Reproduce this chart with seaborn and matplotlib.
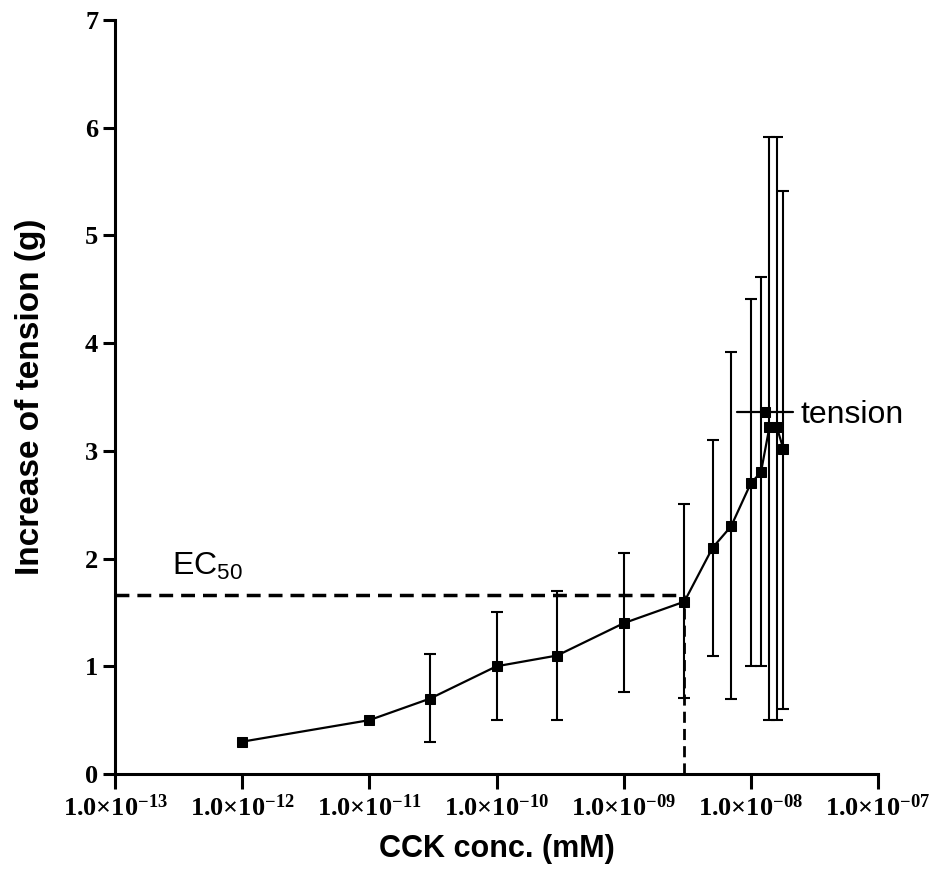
import numpy as np
import pandas as pd
import matplotlib
matplotlib.use("Agg")
import matplotlib.pyplot as plt
import seaborn as sns
from matplotlib.ticker import FixedLocator, FuncFormatter, NullLocator

# ================================
# data
# ================================
conc = [1e-12, 1e-11, 3e-11, 1e-10, 3e-10, 1e-9, 3e-9, 5e-9, 7e-9,
        1e-8, 1.2e-8, 1.4e-8, 1.6e-8, 1.8e-8]
tension = [0.30, 0.50, 0.70, 1.00, 1.10, 1.40, 1.60, 2.10, 2.30,
           2.70, 2.80, 3.22, 3.22, 3.02]
err_low = [np.nan, np.nan, 0.30, 0.50, 0.50, 0.76, 0.71, 1.10, 0.70,
           1.00, 1.00, 0.50, 0.50, 0.60]
err_high = [np.nan, np.nan, 1.11, 1.50, 1.70, 2.05, 2.51, 3.10, 3.92,
            4.41, 4.61, 5.91, 5.91, 5.41]
x_ticks = [1e-13, 1e-12, 1e-11, 1e-10, 1e-9, 1e-8, 1e-7]
y_ticks = [0, 1, 2, 3, 4, 5, 6, 7]
ec50_conc = 3e-9
ec50_tension = 1.66

df = pd.DataFrame({"conc": conc, "tension": tension,
                   "low": err_low, "high": err_high})

# ================================
# style
# ================================
sns.set_style("ticks")
plt.rcParams.update({
    "font.family": ["Liberation Sans", "DejaVu Sans"],
    "mathtext.fontset": "custom",
    "mathtext.rm": "Liberation Serif",
    "mathtext.bf": "Liberation Serif:bold",
    "mathtext.sf": "Liberation Sans",
    "axes.linewidth": 2.2,
    "text.color": "black",
    "axes.labelcolor": "black",
    "axes.edgecolor": "black",
    "xtick.color": "black",
    "ytick.color": "black",
})

fig = plt.figure(figsize=(9.34, 8.8), dpi=100)
ax = fig.add_axes([115/934, 1 - 774/880, (878-115)/934, (774-20)/880])
ax.set_xscale("log")

# 曲线 + 方块
sns.lineplot(data=df, x="conc", y="tension", ax=ax, color="black",
             marker="s", markersize=7, markeredgecolor="black",
             linewidth=1.6, label="tension", errorbar=None)

# 误差棒（前两个点没有）
e = df.dropna()
ax.errorbar(e["conc"], e["tension"],
            yerr=[e["tension"] - e["low"], e["high"] - e["tension"]],
            fmt="none", ecolor="black", elinewidth=1.5,
            capsize=4.5, capthick=1.5, zorder=1)

# EC50 虚线
ax.plot([x_ticks[0], ec50_conc], [ec50_tension, ec50_tension],
        color="black", lw=2.5, dashes=(4, 2.3), zorder=1, clip_on=False)
ax.plot([ec50_conc, ec50_conc], [0, ec50_tension],
        color="black", lw=2.0, dashes=(4, 2.2), zorder=1)
ax.text(2.8e-13, 1.85, r"EC$_{\mathsf{50}}$", fontsize=23,
        ha="left", va="baseline")

# ================================
# axes
# ================================
ax.set_xlim(x_ticks[0], x_ticks[-1])
ax.set_ylim(y_ticks[0], y_ticks[-1])
ax.xaxis.set_major_locator(FixedLocator(x_ticks))
ax.xaxis.set_minor_locator(NullLocator())
ax.xaxis.set_major_formatter(FuncFormatter(
    lambda v, p: r"$\mathbf{1.0{\times}10^{-%02d}}$" % round(-np.log10(v))))
ax.set_yticks(y_ticks)
ax.set_yticklabels([str(t) for t in y_ticks], fontfamily="Liberation Serif",
                   fontweight="bold")
ax.tick_params(axis="x", direction="out", length=11, width=2.2,
               labelsize=19, pad=4)
ax.tick_params(axis="y", direction="out", length=9, width=2.2,
               labelsize=19, pad=3)
sns.despine(ax=ax)

ax.set_xlabel("CCK conc. (mM)", fontsize=22, fontweight="bold", labelpad=9)
ax.set_ylabel("Increase of tension (g)", fontsize=24, fontweight="bold",
              labelpad=28)

ax.legend(loc="center left", bbox_to_anchor=(0.798, 0.476), frameon=False,
          fontsize=23, handlelength=1.75, handletextpad=0.25,
          borderaxespad=0)

fig.savefig("out.png", dpi=100)
